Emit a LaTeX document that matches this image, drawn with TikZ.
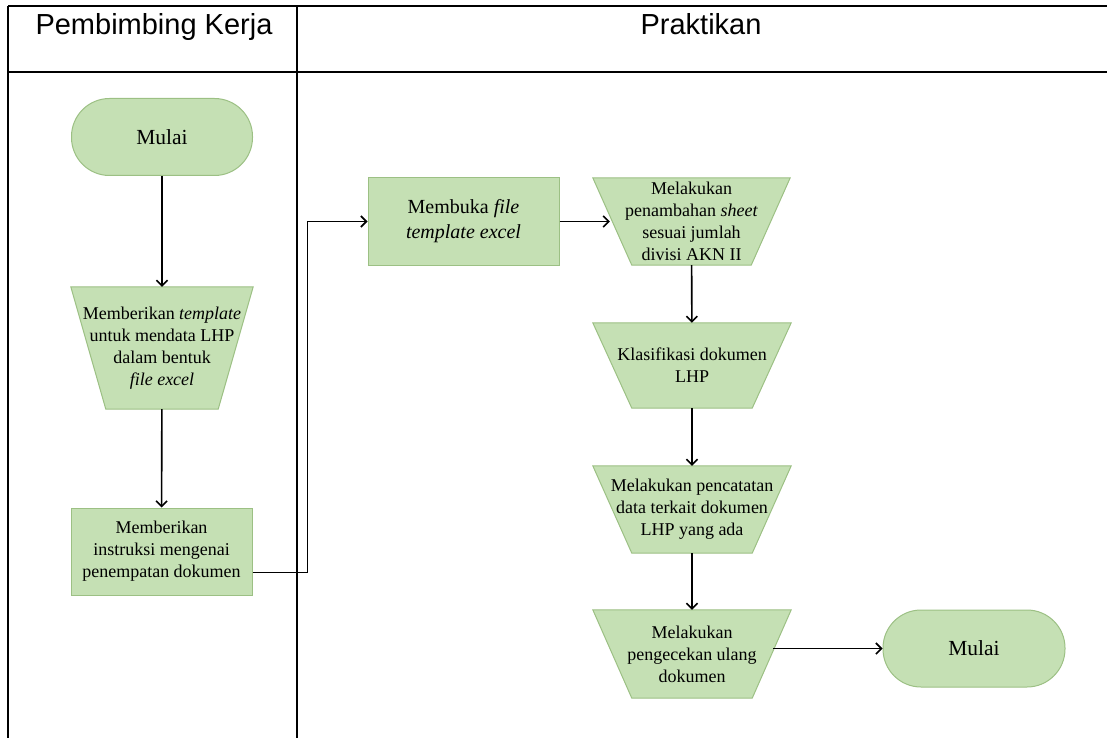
\documentclass[tikz,border=0pt]{standalone}
\usepackage{fontspec}
\setmainfont{Liberation Serif}
\newfontfamily\headfont{Liberation Sans}
\usetikzlibrary{arrows.meta,backgrounds,calc}
\definecolor{boxgreen}{HTML}{C5E0B4}
\definecolor{edgegreen}{HTML}{9CC084}

\begin{document}
\begin{tikzpicture}[
    x=1pt, y=-1pt,
    >={Straight Barb[length=5.5pt,width=11pt]},
    term/.style={
        draw=edgegreen,
        fill=boxgreen,
        line width=1pt,
        rounded corners=38pt,
        minimum width=181pt,
        minimum height=77pt,
        font=\fontsize{21.5}{25}\selectfont
    },
    box/.style={
        draw=edgegreen,
        fill=boxgreen,
        line width=1pt,
        align=center,
        minimum height=87pt,
        font=\fontsize{18}{22}\selectfont
    },
    manual/.style={
        align=center,
        inner sep=0pt,
        minimum width=198pt,
        minimum height=87pt,
        font=\fontsize{18}{22}\selectfont
    },
    arr/.style={->, line width=1.6pt},
    grid/.style={line width=2.2pt}
]
    \useasboundingbox (0,0) rectangle (1107,738);

    % tabel lajur
    \draw[grid] (8,6) -- (1107,6);
    \draw[grid] (8,72) -- (1107,72);
    \draw[grid] (8,6) -- (8,738);
    \draw[grid] (297,6) -- (297,738);
    \node[font=\headfont\fontsize{29}{32}\selectfont, anchor=base] (lane1) at (154,35) {Pembimbing Kerja};
    \node[font=\headfont\fontsize{29}{32}\selectfont, anchor=base] (lane2) at (701,35) {Praktikan};

    % pembimbing kerja
    \node[term] (start) at (162,137) {Mulai};
    \node[manual, minimum width=182pt, minimum height=122pt] (tpl) at (162,348)
        {Memberikan \textit{template}\\untuk mendata LHP\\dalam bentuk\\\textit{file excel}};
    \node[box, minimum width=181pt] (instr) at (161.5,551.5)
        {Memberikan\\instruksi mengenai\\penempatan dokumen};

    % praktikan
    \node[box, minimum width=191pt, font=\fontsize{20}{25}\selectfont] (buka) at (463.5,221.5)
        {Membuka \textit{file}\\\textit{template excel}};
    \node[manual, minimum width=197pt] (sheet) at (691.5,221.5)
        {Melakukan\\penambahan \textit{sheet}\\sesuai jumlah\\divisi AKN II};
    \node[manual, minimum height=85pt] (klas) at (692,365.5)
        {Klasifikasi dokumen\\LHP};
    \node[manual] (catat) at (692,509.5)
        {Melakukan pencatatan\\data terkait dokumen\\LHP yang ada};
    \node[manual, minimum height=88pt] (cek) at (692,654)
        {Melakukan\\pengecekan ulang\\dokumen};
    \node[term, minimum width=182pt] (end) at (974,648.5) {Mulai};

    \begin{scope}[on background layer]
        \foreach \n/\d in {tpl/35,sheet/39,klas/39,catat/39,cek/39}
            \filldraw[draw=edgegreen, fill=boxgreen, line width=1pt]
                (\n.north west) -- (\n.north east)
                -- ([xshift=-\d pt]\n.south east) -- ([xshift=\d pt]\n.south west) -- cycle;
    \end{scope}

    \draw[arr] (start) -- (tpl);
    \draw[arr] (tpl) -- (instr);
    \draw[arr] ([yshift=-21pt]instr.east) -- ++(55,0) |- (buka.west);
    \draw[arr] (buka.east) -- ([xshift=17pt]sheet.west);
    \draw[arr] (sheet) -- (klas);
    \draw[arr] (klas) -- (catat);
    \draw[arr] (catat) -- (cek);
    \draw[arr] ([xshift=-18pt]cek.east |- end.west) -- (end.west);
\end{tikzpicture}
\end{document}
